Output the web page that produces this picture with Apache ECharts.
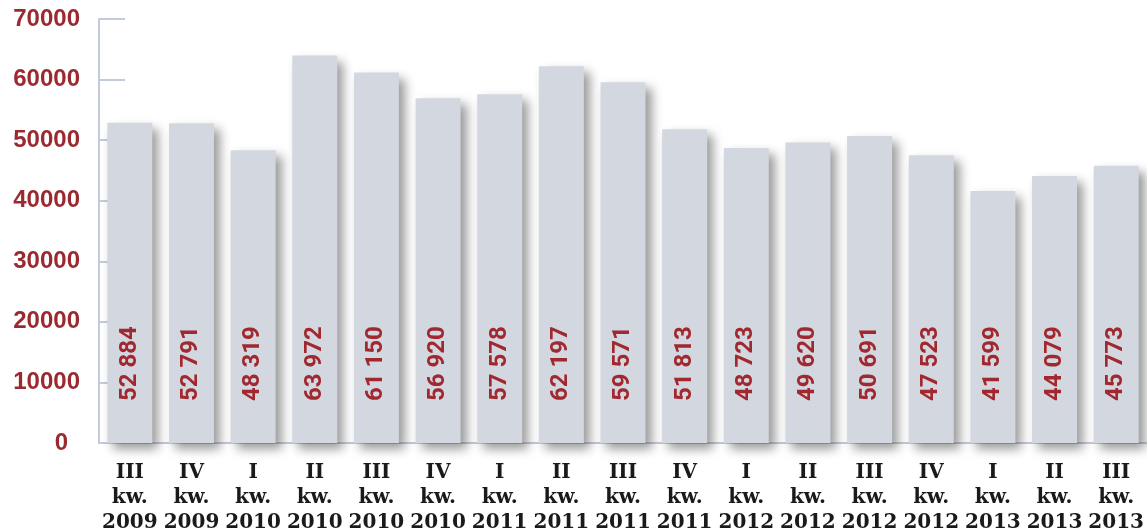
<!DOCTYPE html>
<html>
<head>
<meta charset="utf-8">
<script src="https://cdn.jsdelivr.net/npm/echarts@6/dist/echarts.min.js"></script>
<style>
html,body{margin:0;padding:0;background:#fff;}
#chart{width:1147px;height:532px;}
</style>
</head>
<body>
<div id="chart"></div>
<script>
const categories = [
  "III\nkw.\n2009","IV\nkw.\n2009","I\nkw.\n2010","II\nkw.\n2010","III\nkw.\n2010","IV\nkw.\n2010",
  "I\nkw.\n2011","II\nkw.\n2011","III\nkw.\n2011","IV\nkw.\n2011","I\nkw.\n2012","II\nkw.\n2012",
  "III\nkw.\n2012","IV\nkw.\n2012","I\nkw.\n2013","II\nkw.\n2013","III\nkw.\n2013"
];
const values = [52884,52791,48319,63972,61150,56920,57578,62197,59571,51813,48723,49620,50691,47523,41599,44079,45773];
const yMin = 0, yMax = 70000, yStep = 10000;

const chart = echarts.init(document.getElementById('chart'));
chart.setOption({
  animation: false,
  grid: {left: 99, right: 0, top: 19, bottom: 89, containLabel: false, outerBoundsMode: 'none'},
  xAxis: {
    type: 'category',
    data: categories,
    axisLine: {lineStyle: {color: '#c3cbda', width: 2}},
    axisTick: {inside: true, length: 10, lineStyle: {color: '#e2e4e8', width: 1}},
    axisLabel: {
      interval: 0, margin: 17, color: '#1a1a1a',
      fontFamily: 'DejaVu Serif', fontWeight: 'bold', fontSize: 20, lineHeight: 25
    }
  },
  yAxis: {
    type: 'value', min: yMin, max: yMax, interval: yStep,
    axisLine: {show: true, lineStyle: {color: '#c3cbda', width: 2}},
    axisTick: {show: true, inside: true, length: 26, lineStyle: {color: '#c3cbda', width: 2}},
    splitLine: {show: false},
    axisLabel: {
      margin: 19, color: '#9b2a30', fontFamily: 'Liberation Sans', fontWeight: 'bold', fontSize: 24,
      formatter: v => v === 0 ? '0\u2002' : String(v)
    }
  },
  series: [{
    type: 'bar',
    data: values,
    barCategoryGap: '27%',
    z: 3,
    itemStyle: {
      color: '#d3d7e0',
      shadowColor: 'rgba(0,0,0,0.4)', shadowBlur: 10, shadowOffsetX: 6, shadowOffsetY: 6
    },
    label: {
      show: true, position: 'insideBottom', distance: 42, rotate: 90,
      align: 'left', verticalAlign: 'middle',
      color: '#a1282e', fontFamily: 'Roboto', fontWeight: 'bold', fontSize: 24,
      formatter: p => String(p.value).replace(/\B(?=(\d{3})+(?!\d))/g, ' ')
    }
  }]
});
</script>
</body>
</html>
